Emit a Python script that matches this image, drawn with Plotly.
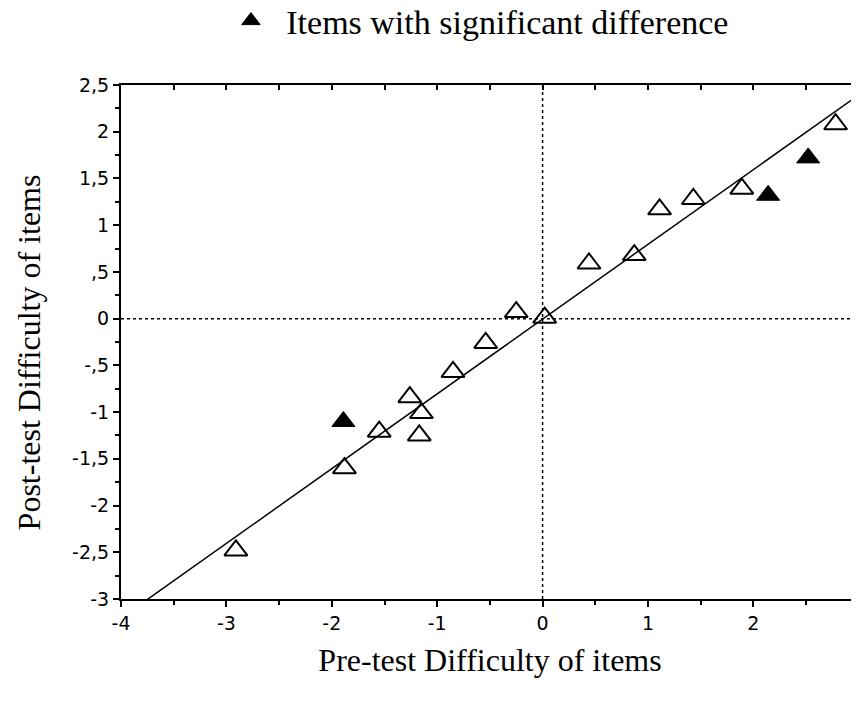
import plotly.graph_objects as go

# Open triangles (items without significant difference)
pre_open = [-2.91, -1.88, -1.55, -1.26, -1.15, -1.17, -0.85, -0.54, -0.25, 0.02, 0.44, 0.87, 1.11, 1.43, 1.89, 2.78]
post_open = [-2.48, -1.60, -1.21, -0.84, -1.01, -1.25, -0.57, -0.26, 0.07, 0.01, 0.59, 0.68, 1.17, 1.28, 1.39, 2.08]

# Filled triangles (items with significant difference)
pre_sig = [-1.89, 2.14, 2.52]
post_sig = [-1.10, 1.32, 1.72]

# Regression line endpoints (x) and coefficients
line_x = [-4, 3]
slope, intercept = 0.80, -0.005

x_ticks = [-4, -3, -2, -1, 0, 1, 2, 3]
x_ticklabels = ["-4", "-3", "-2", "-1", "0", "1", "2", "3"]
y_ticks = [2.5, 2, 1.5, 1, 0.5, 0, -0.5, -1, -1.5, -2, -2.5, -3]
y_ticklabels = ["2,5", "2", "1,5", "1", ",5", "0", "-,5", "-1", "-1,5", "-2", "-2,5", "-3"]

fig = go.Figure()

fig.add_trace(go.Scatter(
    x=line_x, y=[slope * v + intercept for v in line_x], mode="lines",
    line=dict(color="black", width=1.5), showlegend=False, hoverinfo="skip"))

fig.add_trace(go.Scatter(
    x=pre_open, y=post_open, mode="markers",
    marker=dict(symbol="triangle-up-open", size=20, color="black", line=dict(width=2, color="black")),
    showlegend=False))

fig.add_trace(go.Scatter(
    x=pre_sig, y=post_sig, mode="markers", name="\u00a0\u2009Items with significant difference",
    marker=dict(symbol="triangle-up", size=20, color="black", line=dict(width=1, color="black")),
    showlegend=True))

# dotted zero lines
fig.add_shape(type="line", xref="x", yref="paper", x0=0, x1=0, y0=0, y1=1,
              line=dict(color="black", width=1.5, dash="dot"), layer="below")
fig.add_shape(type="line", xref="paper", yref="y", x0=0, x1=1, y0=0, y1=0,
              line=dict(color="black", width=1.5, dash="dot"), layer="below")

tickfont = dict(family="DejaVu Sans", size=19, color="black")
titlefont = dict(family="Liberation Serif", size=32, color="black")

fig.update_layout(
    width=851, height=690,
    margin=dict(l=113, r=0, t=77, b=99, autoexpand=False),
    paper_bgcolor="white", plot_bgcolor="white",
    showlegend=True,
    legend=dict(orientation="h", x=0.149, y=1 - 13 / 690, xanchor="left", yanchor="middle",
                yref="container",
                font=dict(family="Liberation Serif", size=34, color="black"),
                bgcolor="rgba(0,0,0,0)"),
    xaxis=dict(range=[-4, 3.002], tickvals=x_ticks, ticktext=x_ticklabels,
               ticks="outside", ticklen=6, tickwidth=1.5, tickcolor="black",
               minor=dict(dtick=0.5, ticks="outside", ticklen=4, tickcolor="black", tickwidth=1.5),
               showline=True, linecolor="black", linewidth=2, showgrid=False, zeroline=False,
               tickfont=tickfont, ticklabeloverflow="allow", automargin=False,
               title=dict(text="Pre-test Difficulty of items", font=titlefont, standoff=16)),
    xaxis2=dict(range=[-4, 3.002], overlaying="x", side="top", dtick=0.5, tick0=0,
                ticks="inside", ticklen=5, tickwidth=1.5, tickcolor="black",
                showticklabels=False, showline=True, linecolor="black", linewidth=2,
                showgrid=False, zeroline=False, automargin=False),
    yaxis=dict(range=[-3, 2.5], tickvals=y_ticks, ticktext=y_ticklabels,
               ticks="outside", ticklen=6, tickwidth=1.5, tickcolor="black",
               minor=dict(dtick=0.25, ticks="outside", ticklen=4, tickcolor="black", tickwidth=1.5),
               showline=True, linecolor="black", linewidth=2, showgrid=False, zeroline=False,
               tickfont=tickfont, automargin=False),
    annotations=[dict(text="Post-test Difficulty of items", textangle=-90,
                      xref="paper", yref="paper", x=-0.1245, y=0.48,
                      xanchor="center", yanchor="middle", showarrow=False, font=titlefont)],
)

# invisible trace to activate the top (mirrored) axis
fig.add_trace(go.Scatter(x=[-4], y=[-3], xaxis="x2", mode="markers",
                         marker=dict(opacity=0), showlegend=False, hoverinfo="skip"))

fig.write_html("out.html")
